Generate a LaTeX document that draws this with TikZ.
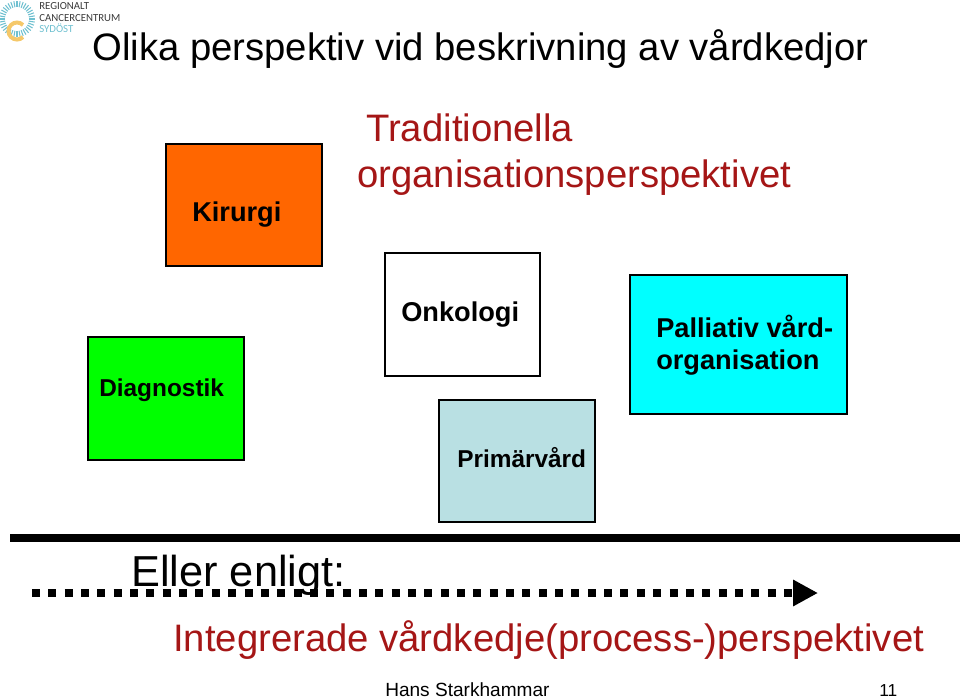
\documentclass[tikz,border=0pt]{standalone}
\usepackage{fontspec}
\setmainfont{Liberation Sans}
\newfontfamily\logofont{Carlito}
\usepackage{xcolor}
\usetikzlibrary{arrows.meta}
\definecolor{darkred}{HTML}{A51616}
\definecolor{orangebox}{HTML}{FF6600}
\definecolor{greenbox}{HTML}{00FF00}
\definecolor{cyanbox}{HTML}{00FFFF}
\definecolor{tealbox}{HTML}{B9E0E3}
\definecolor{logoblue}{HTML}{6FC0D0}
\definecolor{logoyellow}{HTML}{F5C86A}
\definecolor{logotext}{HTML}{3A3A3A}
\tikzset{
    box/.style={draw=black, line width=1.5pt, anchor=north west, inner sep=0pt, outer sep=0pt},
    boxtext/.style={black, font=\fontsize{20.4}{24}\selectfont\bfseries, anchor=base west, inner sep=0pt},
    smallboxtext/.style={black, font=\fontsize{18.3}{22}\selectfont\bfseries, anchor=base west, inner sep=0pt},
    redtext/.style={darkred, font=\fontsize{28.7}{34}\selectfont, anchor=base west, inner sep=0pt},
    blacktext/.style={black, font=\fontsize{28.7}{34}\selectfont, anchor=base west, inner sep=0pt},
    largetext/.style={black, font=\fontsize{32.5}{38}\selectfont, anchor=base west, inner sep=0pt},
    footertext/.style={black, font=\fontsize{14.3}{17}\selectfont, anchor=base west, inner sep=0pt},
    logotxt/.style={font=\logofont\fontsize{8.1}{10}\selectfont, anchor=base west, inner sep=0pt}
}
\begin{document}
\begin{tikzpicture}[x=0.75pt,y=-0.75pt]
    \useasboundingbox (0,0) rectangle (960,698);
    % Logo
    \foreach \a in {0,10,...,350}
    {
        \draw[logoblue, line width=0.8pt] (17,19) ++(\a:12) -- ++(\a:6);
    }
    \draw[logoyellow, line width=3pt] (17,19) ++(45:8.5) arc[start angle=-45, end angle=-315, radius=8.5];
    \node[logotxt, logotext] (logoa) at (39,10) {REGIONALT};
    \node[logotxt, logotext] (logob) at (39,21.5) {CANCERCENTRUM};
    \node[logotxt, logoblue] (logoc) at (39,33) {SYDÖST};
    % Title
    \node[blacktext] (title) at (92,61) {Olika perspektiv vid beskrivning av vårdkedjor};
    \node[redtext] (trada) at (366,142) {Traditionella};
    \node[redtext] (tradb) at (357,188) {organisationsperspektivet};
    % Boxes
    \node[box, fill=orangebox, minimum width=117pt, minimum height=91.5pt] (kirurgi) at (166,144) {};
    \node[box, fill=greenbox, minimum width=117pt, minimum height=92pt] (diagnostik) at (88,337) {};
    \node[box, fill=white, minimum width=116pt, minimum height=92pt] (onkologi) at (385,253) {};
    \node[box, fill=tealbox, minimum width=117pt, minimum height=91.5pt] (primarvard) at (439,400) {};
    \node[box, fill=cyanbox, minimum width=163pt, minimum height=104pt] (palliativ) at (630,275) {};
    % Box labels
    \node[boxtext] (kirurgilabel) at (192,222) {Kirurgi};
    \node[smallboxtext] (diagnostiklabel) at (99,397) {Diagnostik};
    \node[boxtext] (onkologilabel) at (401,322) {Onkologi};
    \node[smallboxtext] (primarvardlabel) at (457,467) {Primärvård};
    \node[boxtext] (palliativlabela) at (656,338) {Palliativ vård-};
    \node[boxtext] (palliativlabelb) at (656,370) {organisation};
    % Separator
    \coordinate (sepleft) at (10,538);
    \coordinate (sepright) at (960,538);
    \draw[black, line width=6pt] (sepleft) -- (sepright);
    % Arrow
    \coordinate (arrowstart) at (32,593);
    \coordinate (arrowend) at (818,593);
    \node[largetext] (eller) at (131,586) {Eller enligt:};
    \draw[black, line width=6pt, dash pattern=on 6pt off 6.26pt,
        -{Triangle[length=18.75pt, width=18.75pt]}] (arrowstart) -- (arrowend);
    \node[redtext] (integrerade) at (173,651) {Integrerade vårdkedje(process-)perspektivet};
    % Footer
    \node[footertext] (author) at (385,696) {Hans Starkhammar};
    \node[footertext, font=\fontsize{13}{16}\selectfont] (pagenr) at (879,696) {11};
\end{tikzpicture}
\end{document}
